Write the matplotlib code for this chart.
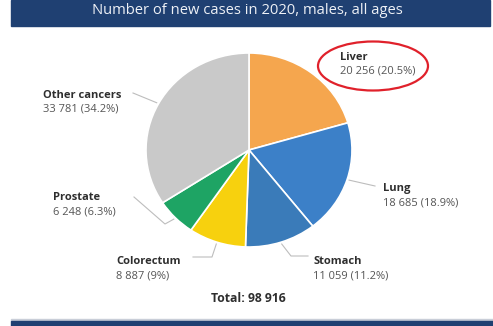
import numpy as np
import matplotlib
matplotlib.use('Agg')
import matplotlib.pyplot as plt
from matplotlib.patches import Rectangle, Ellipse

plt.rcParams['font.family'] = ['Open Sans', 'DejaVu Sans']

# 資料
sites = ['Liver', 'Lung', 'Stomach', 'Colorectum', 'Prostate', 'Other cancers']
cases = [20256, 18685, 11059, 8887, 6248, 33781]
pct_labels = ['20.5%', '18.9%', '11.2%', '9%', '6.3%', '34.2%']
colors = ['#F5A64E', '#3C80C8', '#3A7BB9', '#F7D10E', '#1EA464', '#C9C9C9']
title = 'Number of new cases in 2020, males, all ages'
total = sum(cases)

W, H = 493, 326
fig = plt.figure(figsize=(W / 100, H / 100), dpi=100)

# 底層：以像素座標繪製標題列、文字與引線
bg = fig.add_axes([0, 0, 1, 1])
bg.set_xlim(0, W)
bg.set_ylim(H, 0)
bg.axis('off')

bg.add_patch(Rectangle((11, 0), 479, 26, color='#1F4072'))
bg.add_patch(Rectangle((11, 319), 482, 1.5, color='#C9CED8'))
bg.add_patch(Rectangle((11, 320.5), 482, 6, color='#1F4072'))
bg.text(247, 11, title, color='#EEF1F6', fontsize=10.6, ha='center', va='center')

# 圓餅圖位置（像素）
L, T, PW, PH = 146, 53, 206, 194
ax = fig.add_axes([L / W, 1 - (T + PH) / H, PW / W, PH / H])
wedges, _ = ax.pie(cases, startangle=90, counterclock=False, colors=colors,
                   wedgeprops=dict(edgecolor='white', linewidth=1.2))
ax.set_xlim(-1, 1)
ax.set_ylim(-1, 1)
ax.set_aspect('auto')


def to_px(x, y):
    return L + (x + 1) / 2 * PW, T + (1 - y) / 2 * PH


# 標籤位置 (左上文字) 與引線轉折點
label_pos = {
    'Liver': (340, 57),
    'Lung': (383, 189),
    'Stomach': (313, 262),
    'Colorectum': (116, 262),
    'Prostate': (53, 198),
    'Other cancers': (43, 95),
}
leader_pts = {
    'Lung': [(375, 186)],
    'Stomach': [(291, 256), (308, 256)],
    'Colorectum': [(212, 257), (193, 257)],
    'Prostate': [(165, 224), (134, 197)],
    'Other cancers': [(133, 93)],
}

for w, name, n, p in zip(wedges, sites, cases, pct_labels):
    x, y = label_pos[name]
    bg.text(x, y, name, fontsize=8, fontweight='bold', color='#2E2E2E',
            ha='left', va='center')
    bg.text(x, y + 14, f'{n:,}'.replace(',', ' ') + f' ({p})', fontsize=8,
            color='#555555', ha='left', va='center')
    if name in leader_pts:
        ang = np.deg2rad((w.theta1 + w.theta2) / 2)
        sx, sy = to_px(1.02 * np.cos(ang), 1.02 * np.sin(ang))
        pts = [(sx, sy)] + leader_pts[name]
        bg.plot([q[0] for q in pts], [q[1] for q in pts], color='#BDBDBD', lw=0.8)

# 紅色圈選 Liver
bg.add_patch(Ellipse((373, 66), 110, 49, fill=False, edgecolor='#E0212B', lw=1.6))

bg.text(248, 298, 'Total: ' + f'{total:,}'.replace(',', ' '), fontsize=8.8,
        fontweight='bold', color='#2E2E2E', ha='center', va='center')

fig.savefig('out.png', dpi=100)
